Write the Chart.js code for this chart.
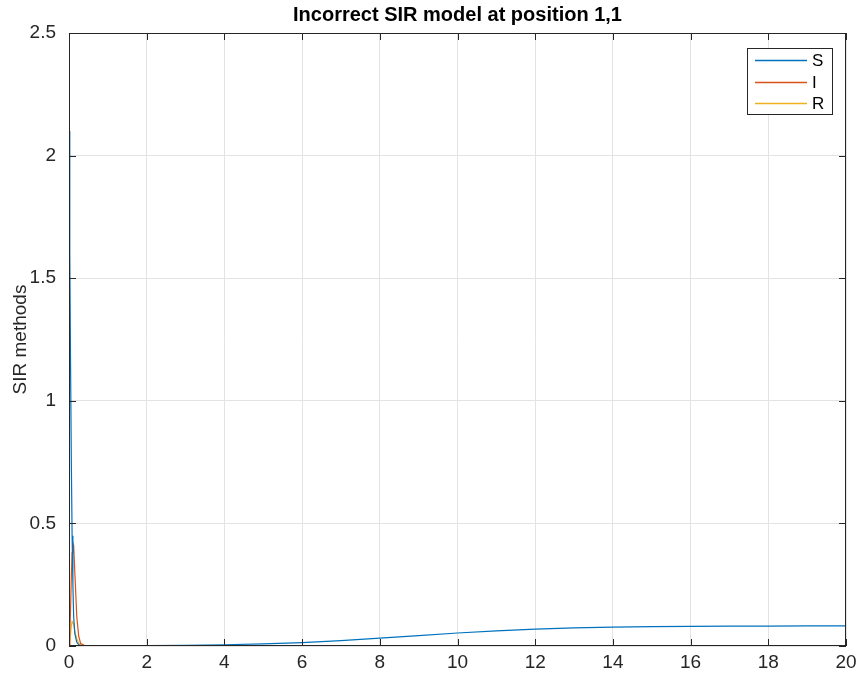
<!DOCTYPE html>
<html>
<head>
<meta charset="utf-8">
<script src="https://cdn.jsdelivr.net/npm/chart.js@4.4.0/dist/chart.umd.min.js"></script>
<style>
  html, body { margin: 0; padding: 0; background: #fff; }
  #wrap { width: 857px; height: 673px; }
</style>
</head>
<body>
<div id="wrap"><canvas id="sirChart" width="857" height="673"></canvas></div>
<script>
// time samples (dense near 0 where S and I move fast)
const tValues = [0, 0.02, 0.04, 0.06, 0.08, 0.1, 0.12, 0.15, 0.2, 0.25, 0.3, 0.4, 0.6, 1, 2, 3, 4, 5, 6, 7, 8, 9, 10, 11, 12, 13, 14, 15, 16, 17, 18, 19, 20];
const sValues = [2.1, 1.6, 1.15, 0.75, 0.45, 0.25, 0.12, 0.05, 0.015, 0.005, 0.002, 0.001, 0.001, 0.001, 0.002, 0.003, 0.005, 0.009, 0.014, 0.022, 0.032, 0.042, 0.053, 0.062, 0.069, 0.074, 0.077, 0.079, 0.080, 0.081, 0.081, 0.082, 0.082];
const iValues = [0, 0.05, 0.15, 0.28, 0.38, 0.42, 0.41, 0.3, 0.12, 0.04, 0.01, 0.002, 0, 0, 0, 0, 0, 0, 0, 0, 0, 0, 0, 0, 0, 0, 0, 0, 0, 0, 0, 0, 0];
const rValues = [0, 0.02, 0.05, 0.08, 0.1, 0.1, 0.09, 0.06, 0.03, 0.01, 0.005, 0.002, 0, 0, 0, 0, 0, 0, 0, 0, 0, 0, 0, 0, 0, 0, 0, 0, 0, 0, 0, 0, 0];
const seriesNames = ['S', 'I', 'R'];
const seriesColors = ['#0072BD', '#D95319', '#EDB120'];
const chartTitle = 'Incorrect SIR model at position 1,1';

const FONT = '"Liberation Sans", Arial, Helvetica, sans-serif';
const INK = '#262626';

const toPoints = (ys) => tValues.map((t, i) => ({ x: t, y: ys[i] }));

// title over the axes, frame, inward ticks and the MATLAB-like legend box
const matlabAxes = {
  id: 'matlabAxes',
  afterDraw(chart) {
    const { ctx, chartArea: a, scales } = chart;
    ctx.save();

    ctx.fillStyle = '#000';
    ctx.font = 'bold 20px ' + FONT;
    ctx.textAlign = 'center';
    ctx.textBaseline = 'middle';
    ctx.fillText(chartTitle, (a.left + a.right) / 2, 15);

    ctx.strokeStyle = INK;
    ctx.lineWidth = 1;
    ctx.strokeRect(a.left + 0.5, a.top + 0.5, a.right - a.left - 1, a.bottom - a.top - 1);
    const len = 7;
    ctx.beginPath();
    scales.x.ticks.forEach(tk => {
      const px = Math.round(scales.x.getPixelForValue(tk.value)) + 0.5;
      ctx.moveTo(px, a.bottom); ctx.lineTo(px, a.bottom - len);
      ctx.moveTo(px, a.top); ctx.lineTo(px, a.top + len);
    });
    scales.y.ticks.forEach(tk => {
      const py = Math.round(scales.y.getPixelForValue(tk.value)) + 0.5;
      ctx.moveTo(a.left, py); ctx.lineTo(a.left + len, py);
      ctx.moveTo(a.right, py); ctx.lineTo(a.right - len, py);
    });
    ctx.stroke();

    // legend
    const bx = 747, by = 48, bw = 85, bh = 66;
    ctx.fillStyle = '#fff';
    ctx.fillRect(bx, by, bw, bh);
    ctx.strokeStyle = INK;
    ctx.strokeRect(bx + 0.5, by + 0.5, bw, bh);
    ctx.font = '17px ' + FONT;
    ctx.textAlign = 'left';
    ctx.textBaseline = 'middle';
    chart.data.datasets.forEach((ds, i) => {
      const y = Math.round(by + 12 + i * 21.5) + 0.5;
      ctx.strokeStyle = seriesColors[i];
      ctx.lineWidth = 1.3;
      ctx.beginPath();
      ctx.moveTo(755, y); ctx.lineTo(807, y);
      ctx.stroke();
      ctx.fillStyle = '#000';
      ctx.fillText(ds.label, 812, y + 1);
    });
    ctx.restore();
  }
};

new Chart(document.getElementById('sirChart'), {
  type: 'line',
  data: {
    datasets: [
      { label: seriesNames[0], data: toPoints(sValues), borderColor: seriesColors[0] },
      { label: seriesNames[1], data: toPoints(iValues), borderColor: seriesColors[1] },
      { label: seriesNames[2], data: toPoints(rValues), borderColor: seriesColors[2] }
    ]
  },
  options: {
    responsive: false,
    animation: false,
    layout: { padding: { top: 33, right: 11, bottom: 0, left: 9 } },
    elements: {
      line: { borderWidth: 1.2, tension: 0 },
      point: { radius: 0 }
    },
    plugins: {
      legend: { display: false },
      tooltip: { enabled: false },
      title: { display: false }
    },
    scales: {
      x: {
        type: 'linear',
        min: 0, max: 20,
        ticks: { stepSize: 2, color: INK, padding: 5, maxRotation: 0, font: { family: FONT, size: 19 } },
        grid: { color: '#e3e3e3', drawTicks: false },
        border: { display: false },
        afterFit: s => { s.height = 27; s.paddingLeft = 0; s.paddingRight = 0; }
      },
      y: {
        min: 0, max: 2.5,
        ticks: {
          stepSize: 0.5, color: INK, padding: 13, font: { family: FONT, size: 19 },
          callback: v => String(v)
        },
        grid: { color: '#e3e3e3', drawTicks: false },
        border: { display: false },
        title: { display: true, text: 'SIR methods', color: INK, padding: 0, font: { family: FONT, size: 19 } },
        afterFit: s => { s.width = 60; s.paddingTop = 0; s.paddingBottom = 0; }
      }
    }
  },
  plugins: [matlabAxes]
});
</script>
</body>
</html>
